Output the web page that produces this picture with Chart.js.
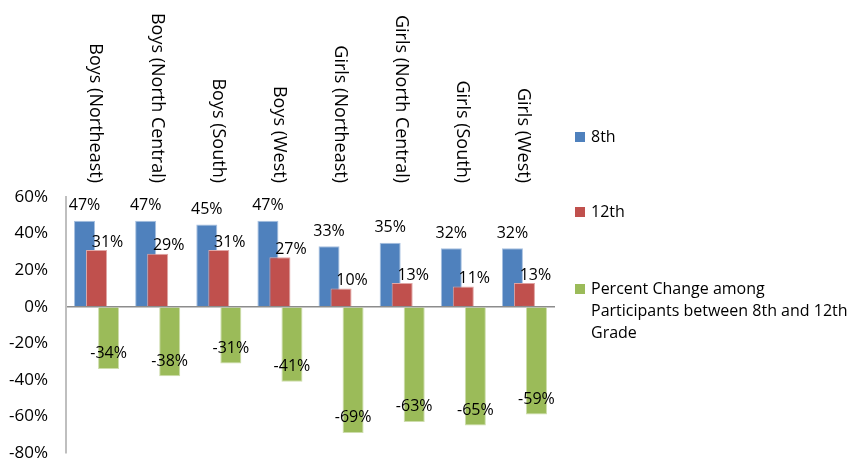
<!DOCTYPE html>
<html>
<head>
<meta charset="utf-8">
<script src="https://cdn.jsdelivr.net/npm/chart.js@4.4.1/dist/chart.umd.min.js"></script>
<style>
  html, body { margin: 0; padding: 0; background: #fff; }
  #wrap { width: 855px; height: 461px; }
</style>
</head>
<body>
<div id="wrap"><canvas id="gradeChart" width="855" height="461"></canvas></div>
<script>
const categories = ['Boys (Northeast)', 'Boys (North Central)', 'Boys (South)', 'Boys (West)',
                    'Girls (Northeast)', 'Girls (North Central)', 'Girls (South)', 'Girls (West)'];
const eighth = [47, 47, 45, 47, 33, 35, 32, 32];
const twelfth = [31, 29, 31, 27, 10, 13, 11, 13];
const change = [-34, -38, -31, -41, -69, -63, -65, -59];
const seriesNames = ['8th', '12th', 'Percent Change among Participants between 8th and 12th Grade'];
const yMin = -80, yMax = 60, yStep = 20;

const FONT = "'Open Sans', sans-serif";

// chart.js paints dataset 0 last; paint them in index order so red overlaps blue like excel
const drawInOrder = {
  id: 'drawInOrder',
  beforeDatasetDraw() { return false; },
  afterDatasetsDraw(chart) {
    chart.data.datasets.forEach((ds, d) => chart.getDatasetMeta(d).controller.draw());
  }
};

// category names drawn on top, turned clockwise
const topLabels = {
  id: 'topLabels',
  afterDraw(chart) {
    const ctx = chart.ctx;
    const xs = chart.scales.x;
    ctx.save();
    ctx.font = '18px ' + FONT;
    ctx.fillStyle = '#000';
    ctx.textAlign = 'right';
    ctx.textBaseline = 'middle';
    chart.data.labels.forEach((lab, i) => {
      const x = xs.getPixelForValue(i);
      ctx.save();
      ctx.translate(x - 1, 183);
      ctx.rotate(Math.PI / 2);
      ctx.fillText(lab, 0, 0);
      ctx.restore();
    });
    ctx.restore();
  }
};

// value labels, placed roughly like the Excel original
const valueLabels = {
  id: 'valueLabels',
  afterDatasetsDraw(chart) {
    const ctx = chart.ctx;
    ctx.save();
    ctx.font = '16px ' + FONT;
    ctx.fillStyle = '#000';
    ctx.textAlign = 'center';
    ctx.textBaseline = 'middle';
    chart.data.datasets.forEach((ds, d) => {
      chart.getDatasetMeta(d).data.forEach((bar, i) => {
        const v = ds.data[i];
        let x = bar.x, y;
        if (d === 0) { y = bar.y - 15; }
        else if (d === 1) { x += 11; y = bar.y - 8; }
        else { y = bar.y - 15; }
        ctx.fillText(v + '%', x, y);
      });
    });
    ctx.restore();
  }
};

// legend on the right with wrapped text
const sideLegend = {
  id: 'sideLegend',
  afterDraw(chart) {
    const ctx = chart.ctx;
    const rows = [137, 212, 289];
    ctx.save();
    ctx.font = '16px ' + FONT;
    ctx.textAlign = 'left';
    ctx.textBaseline = 'middle';
    chart.data.datasets.forEach((ds, d) => {
      const y = rows[d];
      ctx.fillStyle = ds.backgroundColor;
      ctx.fillRect(575, y - 5, 10, 10);
      ctx.fillStyle = '#000';
      const words = ds.label.split(' ');
      let line = '', ly = y;
      words.forEach(w => {
        const test = line ? line + ' ' + w : w;
        if (ctx.measureText(test).width > 262 && line) {
          ctx.fillText(line, 591, ly);
          line = w;
          ly += 22;
        } else {
          line = test;
        }
      });
      ctx.fillText(line, 591, ly);
    });
    ctx.restore();
  }
};

const ctx = document.getElementById('gradeChart').getContext('2d');
const gradeChart = new Chart(ctx, {
  type: 'bar',
  data: {
    labels: categories,
    datasets: [
      { label: seriesNames[0], data: eighth, backgroundColor: '#4F81BD', borderColor: '#A7C0E0', borderWidth: 1 },
      { label: seriesNames[1], data: twelfth, backgroundColor: '#C0504D', borderColor: '#E0A7A6', borderWidth: 1 },
      { label: seriesNames[2], data: change, backgroundColor: '#9BBB59', borderColor: '#CDDDAC', borderWidth: 1 }
    ]
  },
  options: {
    responsive: false,
    animation: false,
    categoryPercentage: 0.59,
    barPercentage: 1.75,
    layout: { padding: { top: 197, right: 300, bottom: 8, left: 0 } },
    scales: {
      x: { display: false },
      y: {
        min: yMin,
        max: yMax,
        afterFit(scale) {
          scale.width = 66;
          scale.paddingTop = 0;
          scale.paddingBottom = 0;
        },
        ticks: {
          stepSize: yStep,
          color: '#000',
          padding: 18,
          font: { size: 17, family: FONT },
          callback: v => v + '%'
        },
        grid: {
          drawTicks: false,
          color: c => c.tick && c.tick.value === 0 ? '#8C8C8C' : 'rgba(0,0,0,0)',
          lineWidth: 1.5
        },
        border: { display: true, color: '#BFBFBF', width: 2 }
      }
    },
    plugins: {
      legend: { display: false },
      tooltip: { enabled: false }
    }
  },
  plugins: [drawInOrder, topLabels, valueLabels, sideLegend]
});
</script>
</body>
</html>
